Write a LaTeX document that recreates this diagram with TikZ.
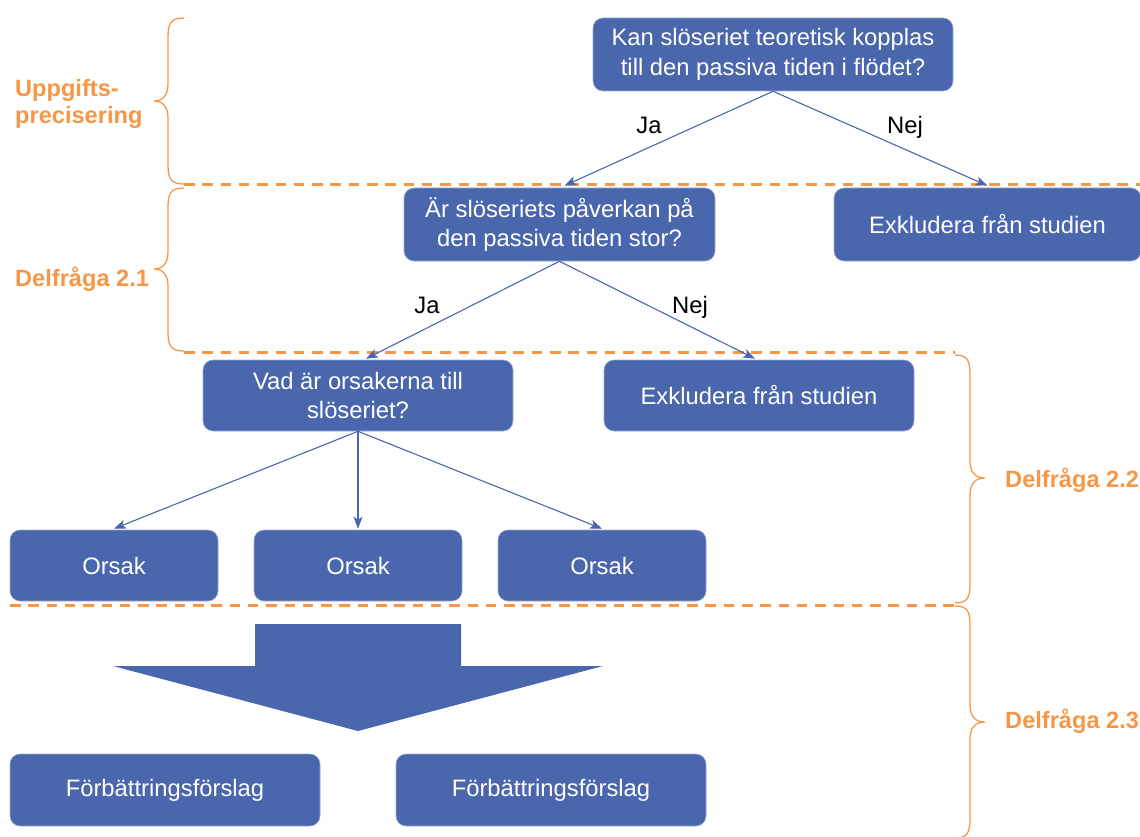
\documentclass[tikz,border=0pt]{standalone}
\usepackage{fontspec}
\setmainfont{Liberation Sans}
\usetikzlibrary{arrows.meta}
\definecolor{boxblue}{HTML}{4A66AC}
\definecolor{brorange}{HTML}{F79646}
\begin{document}
\begin{tikzpicture}[x=1pt,y=-1pt,
  box/.style={rounded corners=10pt, fill=boxblue, draw=boxblue!55!white, line width=0.6pt,
    text=white, align=center, inner sep=0pt, font=\fontsize{23.8}{29.5}\selectfont},
  conn/.style={draw=boxblue, line width=1.1pt, -{Stealth[length=12pt,width=9pt,inset=3pt]}},
  lbl/.style={font=\fontsize{23.8}{28}\selectfont, text=black, inner sep=0pt, anchor=base},
  sect/.style={font=\bfseries\fontsize{23.6}{27}\selectfont, text=brorange, inner sep=0pt, anchor=base west, align=left},
  sep/.style={draw=brorange, line width=3pt, dash pattern=on 10.5pt off 7.8pt},
  brace/.style={draw=brorange, line width=1.3pt}]
\useasboundingbox (0,0) rectangle (1140,837);
\clip (0,0) rectangle (1140,837);

% separators
\draw[sep] (184,185) -- (1140,185);
\draw[sep] (184,352) -- (955,352);
\draw[sep] (10,605) -- (955,605);

% boxes
\node[box, minimum width=360pt, minimum height=73pt] (q1) at (773,54.5) {Kan slöseriet teoretisk kopplas\\till den passiva tiden i flödet?};
\node[box, minimum width=311pt, minimum height=73pt] (q2) at (559.5,224.5) {Är slöseriets påverkan på\\den passiva tiden stor?};
\node[box, minimum width=307pt, minimum height=73pt] (ex1) at (987.5,224.5) {Exkludera från studien};
\node[box, minimum width=310pt, minimum height=71pt] (q3) at (358,395.5) {Vad är orsakerna till\\slöseriet?};
\node[box, minimum width=310pt, minimum height=71pt] (ex2) at (759,395.5) {Exkludera från studien};
\node[box, minimum width=208pt, minimum height=71pt] (o1) at (114,565.5) {Orsak};
\node[box, minimum width=208pt, minimum height=71pt] (o2) at (358,565.5) {Orsak};
\node[box, minimum width=208pt, minimum height=71pt] (o3) at (602,565.5) {Orsak};
\node[box, minimum width=310pt, minimum height=72pt] (f1) at (165,790) {Förbättringsförslag};
\node[box, minimum width=310pt, minimum height=72pt] (f2) at (551,790) {Förbättringsförslag};

% block arrow
\fill[boxblue] (255,624) -- (461,624) -- (461,666) -- (603,666) -- (358,731) -- (113,666) -- (255,666) -- cycle;

% connectors
\draw[conn] (q1.south) -- ([xshift=5pt,yshift=2pt]q2.north);
\draw[conn] (q1.south) -- ([yshift=2pt]ex1.north);
\draw[conn] (q2.south) -- ([xshift=8pt,yshift=1pt]q3.north);
\draw[conn] (q2.south) -- ([xshift=-4pt,yshift=1pt]ex2.north);
\draw[conn] (q3.south) -- ([yshift=1pt]o1.north);
\draw[conn] (q3.south) -- ([yshift=1pt]o2.north);
\draw[conn] (q3.south) -- ([yshift=1pt]o3.north);

% connector labels
\node[lbl] (ja1) at (649,134) {Ja};
\node[lbl] (nej1) at (905,134) {Nej};
\node[lbl] (ja2) at (427,313) {Ja};
\node[lbl] (nej2) at (690,313) {Nej};

% braces
\draw[brace] (184,18) .. controls (170,18) and (168,24) .. (168,38) -- (168,84)
  .. controls (168,96) and (162,101) .. (154,101)
  .. controls (162,101) and (168,106) .. (168,118) -- (168,164)
  .. controls (168,178) and (170,184) .. (184,184);
\draw[brace] (184,188) .. controls (170,188) and (168,194) .. (168,208) -- (168,252)
  .. controls (168,264) and (162,269) .. (154,269)
  .. controls (162,269) and (168,274) .. (168,286) -- (168,331)
  .. controls (168,345) and (170,351) .. (184,351);
\draw[brace] (955,355) .. controls (968,355) and (970,361) .. (970,375) -- (970,461)
  .. controls (970,473) and (976,478) .. (985,478)
  .. controls (976,478) and (970,483) .. (970,495) -- (970,583)
  .. controls (970,597) and (968,603) .. (955,603);
\draw[brace] (955,606) .. controls (968,606) and (970,612) .. (970,626) -- (970,705)
  .. controls (970,717) and (976,722) .. (985,722)
  .. controls (976,722) and (970,727) .. (970,739) -- (970,818)
  .. controls (970,832) and (968,838) .. (955,838);

% section labels
\node[sect] (s1) at (15,124) {Uppgifts-\\precisering};
\node[sect] (s2) at (15,286) {Delfråga 2.1};
\node[sect] (s3) at (1005,487) {Delfråga 2.2};
\node[sect] (s4) at (1005,728) {Delfråga 2.3};
\end{tikzpicture}
\end{document}
